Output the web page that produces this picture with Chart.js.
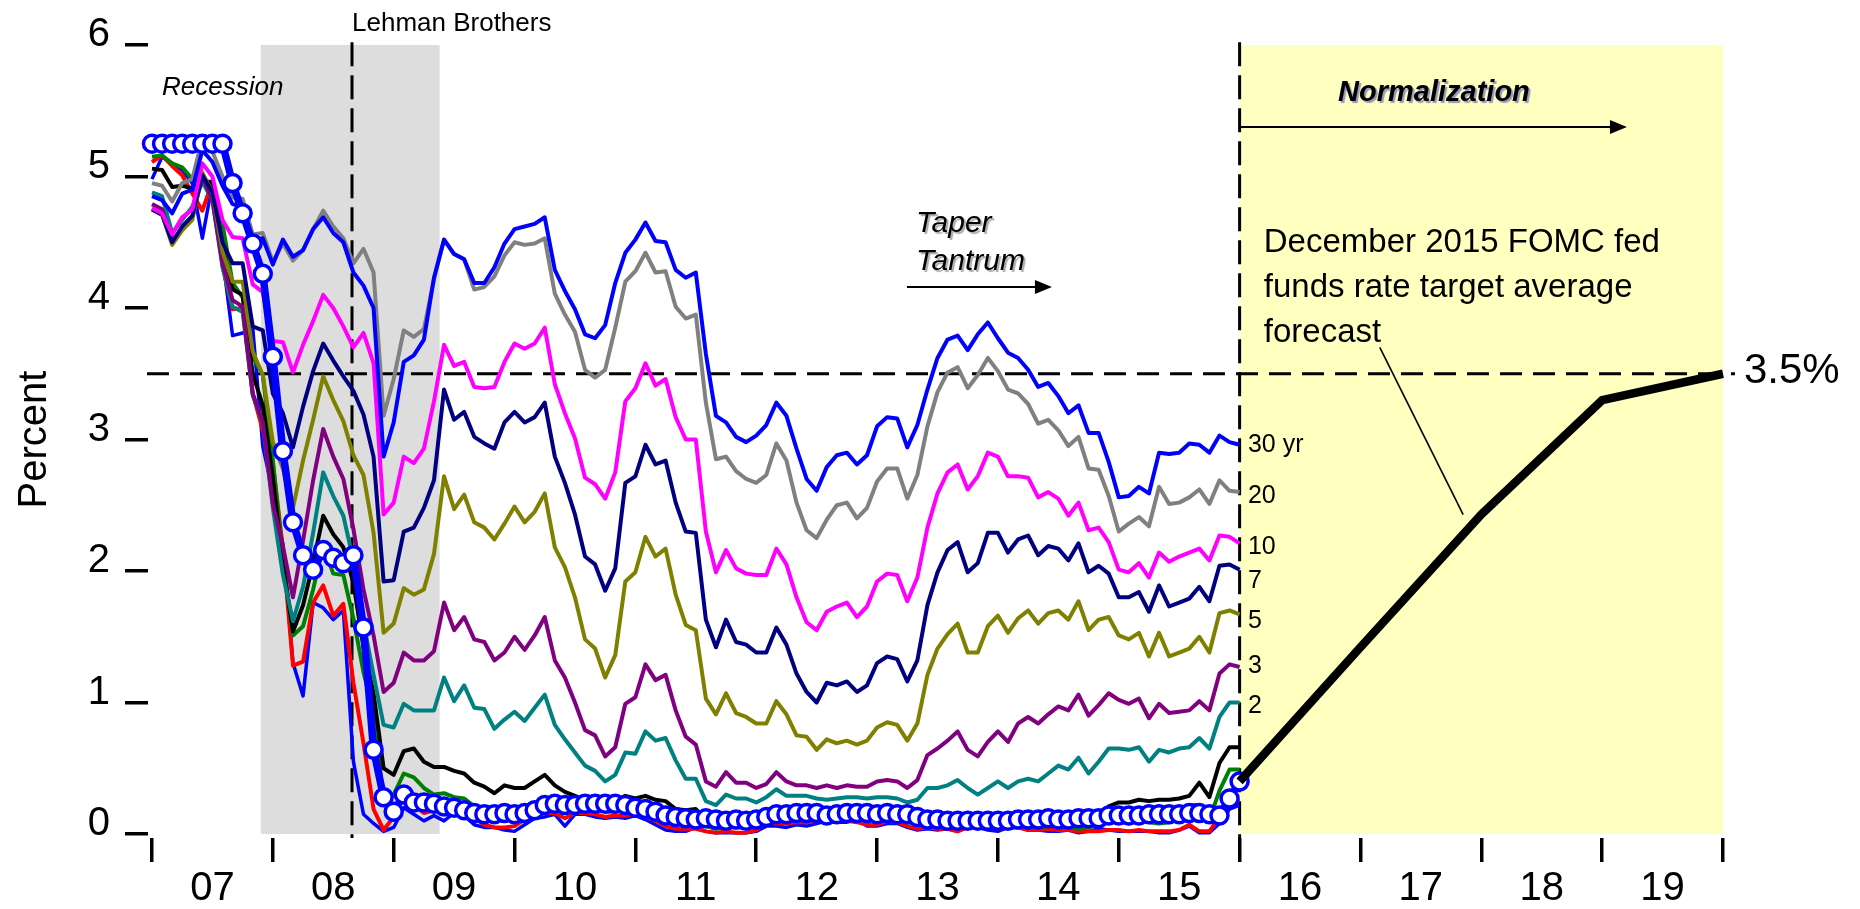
<!DOCTYPE html>
<html><head><meta charset="utf-8">
<script src="https://cdn.jsdelivr.net/npm/chart.js@4/dist/chart.umd.min.js"></script>
<style>html,body{margin:0;padding:0;background:#fff;overflow:hidden}canvas{display:block}</style>
</head><body>
<canvas id="c" width="1860" height="909"></canvas>
<script>
// ---------------- DATA ----------------
// monthly observations, Jan 2007 .. Jan 2016
const startYear = 2007;
const monthCount = 109;
const xTickYears  = [2007,2008,2009,2010,2011,2012,2013,2014,2015,2016,2017,2018,2019,2020];
const xTickLabels = ['07','08','09','10','11','12','13','14','15','16','17','18','19',''];
const yTickValues = [0,1,2,3,4,5,6];

const fedFunds = [
5.25,5.25,5.25,5.25,5.25,5.25,5.25,5.25,4.95,4.72,4.49,4.26,
3.63,2.91,2.37,2.12,2.01,2.16,2.10,2.06,2.12,1.57,0.64,0.28,
0.17,0.30,0.24,0.24,0.23,0.21,0.20,0.18,0.16,0.15,0.15,0.16,
0.15,0.16,0.18,0.22,0.23,0.22,0.22,0.23,0.23,0.23,0.23,0.22,
0.20,0.19,0.17,0.14,0.13,0.12,0.11,0.12,0.11,0.10,0.11,0.10,
0.11,0.13,0.15,0.15,0.16,0.16,0.16,0.14,0.15,0.16,0.16,0.16,
0.15,0.16,0.15,0.15,0.13,0.11,0.11,0.10,0.10,0.10,0.10,0.10,
0.10,0.10,0.11,0.11,0.11,0.12,0.11,0.11,0.12,0.12,0.12,0.14,
0.14,0.14,0.14,0.15,0.15,0.15,0.15,0.16,0.16,0.15,0.14,0.27,
0.40];
const y1m = [
4.98,5.15,5.10,5.05,4.95,4.53,4.95,4.39,3.79,3.81,3.85,2.95,
2.60,2.20,1.30,1.05,1.76,1.72,1.63,1.70,0.55,0.15,0.08,0.02,
0.05,0.20,0.15,0.10,0.14,0.10,0.16,0.14,0.07,0.05,0.05,0.03,
0.02,0.07,0.12,0.13,0.15,0.06,0.15,0.15,0.13,0.12,0.13,0.12,
0.14,0.11,0.07,0.03,0.02,0.02,0.05,0.02,0.01,0.01,0.01,0.01,
0.02,0.06,0.06,0.05,0.07,0.06,0.08,0.10,0.09,0.09,0.11,0.06,
0.06,0.08,0.08,0.05,0.03,0.04,0.03,0.04,0.02,0.08,0.05,0.03,
0.02,0.05,0.05,0.03,0.03,0.02,0.02,0.03,0.01,0.02,0.04,0.03,
0.02,0.02,0.02,0.02,0.01,0.01,0.03,0.06,0.01,0.01,0.08,0.19,
0.22];
const y3m = [
5.11,5.16,5.08,5.01,4.87,4.74,4.96,4.32,3.99,4.00,3.35,3.07,
2.82,2.17,1.28,1.31,1.76,1.89,1.66,1.75,1.15,0.69,0.19,0.03,
0.13,0.30,0.22,0.16,0.18,0.18,0.18,0.17,0.12,0.07,0.05,0.05,
0.06,0.11,0.15,0.16,0.16,0.12,0.16,0.16,0.15,0.13,0.14,0.14,
0.15,0.13,0.10,0.06,0.04,0.04,0.04,0.02,0.01,0.02,0.01,0.01,
0.03,0.09,0.08,0.08,0.09,0.09,0.10,0.10,0.11,0.10,0.09,0.07,
0.07,0.10,0.09,0.06,0.04,0.05,0.04,0.04,0.02,0.05,0.07,0.07,
0.04,0.05,0.05,0.03,0.03,0.04,0.03,0.03,0.02,0.02,0.02,0.03,
0.03,0.02,0.03,0.02,0.02,0.02,0.03,0.07,0.02,0.02,0.13,0.23,
0.26];
const y6m = [
5.15,5.16,5.10,5.07,4.98,4.95,4.96,4.64,4.19,4.08,3.63,3.49,
2.84,2.10,1.51,1.58,1.86,2.19,1.98,1.97,1.64,1.23,0.92,0.26,
0.30,0.46,0.43,0.35,0.30,0.31,0.28,0.27,0.21,0.18,0.15,0.18,
0.15,0.18,0.22,0.24,0.23,0.22,0.20,0.19,0.19,0.17,0.17,0.19,
0.17,0.16,0.16,0.12,0.09,0.10,0.08,0.06,0.04,0.05,0.05,0.05,
0.06,0.11,0.14,0.14,0.14,0.14,0.14,0.13,0.13,0.15,0.15,0.12,
0.11,0.12,0.11,0.09,0.08,0.09,0.09,0.07,0.04,0.08,0.10,0.10,
0.08,0.08,0.08,0.05,0.05,0.06,0.06,0.05,0.04,0.05,0.07,0.12,
0.10,0.08,0.14,0.09,0.08,0.09,0.14,0.22,0.22,0.11,0.33,0.49,
0.49];
const y1y = [
5.06,5.05,4.92,4.93,4.91,4.96,4.96,4.47,4.14,4.10,3.50,3.26,
2.71,2.05,1.54,1.74,2.06,2.42,2.28,2.18,1.91,1.42,1.07,0.50,
0.45,0.63,0.65,0.55,0.51,0.51,0.48,0.46,0.39,0.36,0.31,0.37,
0.35,0.35,0.40,0.45,0.37,0.32,0.29,0.26,0.26,0.23,0.25,0.29,
0.27,0.29,0.26,0.25,0.19,0.18,0.19,0.11,0.10,0.11,0.11,0.12,
0.12,0.16,0.19,0.18,0.19,0.19,0.19,0.18,0.18,0.18,0.18,0.16,
0.15,0.16,0.15,0.12,0.12,0.14,0.12,0.13,0.12,0.12,0.12,0.13,
0.12,0.12,0.13,0.11,0.10,0.10,0.11,0.11,0.11,0.10,0.13,0.21,
0.24,0.24,0.26,0.25,0.26,0.26,0.27,0.29,0.39,0.28,0.54,0.66,
0.66];
const y2y = [
4.88,4.85,4.57,4.67,4.77,4.96,4.82,4.31,4.01,3.97,3.34,3.12,
2.48,1.97,1.62,1.88,2.29,2.75,2.57,2.42,2.08,1.61,1.21,0.83,
0.81,0.99,0.94,0.94,0.94,1.19,1.01,1.13,0.96,0.95,0.80,0.87,
0.93,0.86,0.96,1.06,0.83,0.72,0.62,0.52,0.48,0.40,0.45,0.62,
0.61,0.78,0.71,0.73,0.56,0.42,0.42,0.25,0.22,0.30,0.27,0.27,
0.24,0.28,0.34,0.29,0.29,0.29,0.27,0.26,0.27,0.28,0.28,0.27,
0.28,0.28,0.27,0.24,0.26,0.35,0.35,0.37,0.41,0.35,0.30,0.35,
0.40,0.35,0.40,0.42,0.40,0.46,0.52,0.49,0.58,0.46,0.55,0.65,
0.65,0.64,0.66,0.55,0.64,0.62,0.65,0.66,0.73,0.65,0.89,1.00,
1.00];
const y3y = [
4.79,4.75,4.51,4.60,4.69,5.00,4.82,4.34,4.06,4.01,3.35,3.13,
2.51,2.19,1.80,2.23,2.69,3.08,2.87,2.70,2.32,1.86,1.51,1.08,
1.15,1.38,1.32,1.32,1.39,1.76,1.55,1.65,1.48,1.46,1.32,1.38,
1.50,1.40,1.51,1.65,1.32,1.19,1.00,0.79,0.75,0.59,0.66,0.99,
1.04,1.29,1.17,1.21,0.94,0.74,0.68,0.40,0.36,0.47,0.39,0.39,
0.35,0.38,0.47,0.40,0.37,0.37,0.35,0.37,0.35,0.37,0.36,0.36,
0.40,0.41,0.40,0.35,0.41,0.60,0.65,0.71,0.78,0.64,0.59,0.70,
0.78,0.70,0.84,0.89,0.84,0.91,0.97,0.94,1.06,0.90,0.98,1.07,
1.02,0.99,1.03,0.88,0.99,0.92,0.93,0.94,1.01,0.94,1.22,1.29,
1.27];
const y5y = [
4.75,4.71,4.48,4.59,4.67,5.03,4.88,4.43,4.20,4.20,3.67,3.49,
2.98,2.78,2.48,2.84,3.15,3.48,3.30,3.14,2.88,2.73,2.29,1.53,
1.60,1.87,1.82,1.86,2.13,2.72,2.47,2.58,2.37,2.33,2.24,2.36,
2.49,2.37,2.45,2.59,2.18,2.03,1.80,1.48,1.41,1.19,1.36,1.92,
1.99,2.26,2.11,2.17,1.82,1.59,1.55,1.03,0.91,1.07,0.92,0.89,
0.84,0.84,1.01,0.91,0.75,0.74,0.64,0.72,0.69,0.71,0.68,0.71,
0.81,0.85,0.83,0.71,0.84,1.21,1.41,1.52,1.60,1.38,1.38,1.58,
1.66,1.53,1.64,1.70,1.60,1.68,1.70,1.63,1.77,1.55,1.63,1.65,
1.51,1.48,1.53,1.35,1.53,1.35,1.38,1.41,1.50,1.38,1.68,1.70,
1.67];
const y7y = [
4.75,4.71,4.50,4.62,4.70,5.01,4.88,4.50,4.34,4.34,3.86,3.83,
3.35,3.20,2.94,3.25,3.52,3.73,3.60,3.48,3.37,3.19,2.87,1.92,
1.93,2.30,2.33,2.48,2.69,3.38,3.15,3.21,3.02,2.97,2.93,3.13,
3.21,3.13,3.17,3.28,2.87,2.67,2.43,2.11,2.05,1.85,2.02,2.67,
2.72,2.96,2.81,2.84,2.52,2.30,2.29,1.63,1.42,1.63,1.46,1.44,
1.38,1.38,1.57,1.44,1.22,1.08,1.00,1.15,1.13,1.16,1.08,1.13,
1.30,1.35,1.33,1.16,1.32,1.74,1.99,2.16,2.22,1.99,2.06,2.29,
2.29,2.14,2.24,2.27,2.12,2.19,2.17,2.08,2.21,1.99,2.04,1.98,
1.80,1.80,1.84,1.69,1.89,1.73,1.76,1.79,1.88,1.77,2.04,2.05,
2.01];
const y10y = [
4.76,4.72,4.56,4.69,4.75,5.10,5.00,4.67,4.54,4.53,4.18,4.12,
3.75,3.74,3.51,3.72,3.90,4.10,4.00,3.86,3.70,3.81,3.58,2.43,
2.52,2.87,2.82,2.93,3.29,3.72,3.56,3.59,3.40,3.39,3.40,3.59,
3.73,3.69,3.73,3.85,3.42,3.20,3.01,2.71,2.66,2.55,2.75,3.29,
3.39,3.58,3.41,3.46,3.17,3.00,3.00,2.30,1.99,2.16,2.02,1.98,
1.97,1.97,2.17,2.05,1.80,1.61,1.55,1.69,1.73,1.76,1.65,1.73,
1.92,1.98,1.97,1.77,1.95,2.33,2.59,2.75,2.81,2.62,2.72,2.90,
2.87,2.72,2.72,2.71,2.56,2.60,2.55,2.42,2.52,2.31,2.33,2.22,
2.01,1.99,2.06,1.95,2.14,2.07,2.11,2.14,2.17,2.08,2.27,2.26,
2.21];
const y20y = [
4.95,4.93,4.81,4.95,4.98,5.29,5.19,5.00,4.84,4.83,4.56,4.57,
4.35,4.49,4.36,4.44,4.60,4.74,4.62,4.53,4.34,4.45,4.27,3.18,
3.46,3.83,3.78,3.84,4.22,4.52,4.41,4.37,4.14,4.16,4.24,4.40,
4.50,4.48,4.49,4.53,4.11,3.95,3.82,3.53,3.47,3.53,3.85,4.20,
4.28,4.42,4.27,4.28,4.01,3.92,3.95,3.28,2.85,2.87,2.76,2.70,
2.67,2.73,2.97,2.84,2.52,2.31,2.25,2.39,2.50,2.52,2.40,2.48,
2.68,2.78,2.78,2.55,2.73,3.10,3.36,3.51,3.55,3.39,3.49,3.62,
3.52,3.38,3.35,3.27,3.12,3.15,3.07,2.95,3.02,2.78,2.77,2.57,
2.30,2.36,2.41,2.34,2.64,2.51,2.52,2.56,2.62,2.51,2.69,2.61,
2.60];
const y30y = [
4.85,4.82,4.72,4.87,4.90,5.20,5.11,4.93,4.79,4.77,4.52,4.53,
4.33,4.52,4.39,4.44,4.60,4.69,4.57,4.50,4.27,4.17,4.00,2.87,
3.13,3.59,3.64,3.76,4.23,4.52,4.41,4.37,4.19,4.19,4.31,4.49,
4.60,4.62,4.64,4.69,4.29,4.13,3.99,3.80,3.77,3.87,4.19,4.42,
4.52,4.65,4.51,4.50,4.29,4.23,4.27,3.65,3.18,3.13,3.02,2.98,
3.03,3.11,3.28,3.18,2.93,2.70,2.61,2.79,2.88,2.90,2.81,2.88,
3.10,3.17,3.16,2.94,3.11,3.38,3.62,3.76,3.79,3.68,3.80,3.89,
3.77,3.66,3.62,3.53,3.40,3.43,3.33,3.20,3.26,3.05,3.05,2.83,
2.56,2.57,2.64,2.59,2.90,2.89,2.90,2.97,2.96,2.90,3.03,2.98,
2.96];
// December 2015 FOMC fed funds target average forecast (year-end points)
const forecastYears  = [2016, 2017, 2018, 2019, 2020];
const forecastValues = [0.40, 1.42, 2.43, 3.30, 3.50];

const seriesLabels = ['30 yr','20','10','7','5','3','2'];

// ---------------- STYLE / LAYOUT ----------------
const FONT = '"Liberation Sans", Arial, Helvetica, sans-serif';
const XMIN = 2007 - 4/120.85;
const months = Array.from({length: monthCount}, (_, i) => startYear + i / 12);
const pts = arr => arr.map((v, i) => ({x: months[i], y: v}));

const labelLevels = [2.96, 2.57, 2.18, 1.92, 1.62, 1.28, 0.97];

const styleDefs = [
  {data: fedFunds, color:'#0000FF', width:7.5, order:0, marker:true},
  {data: y30y, color:'#0000FF', width:4, order:1},
  {data: y20y, color:'#808080', width:4, order:2},
  {data: y10y, color:'#FF00FF', width:4, order:3},
  {data: y7y,  color:'#000080', width:4, order:4},
  {data: y5y,  color:'#808000', width:4, order:5},
  {data: y3y,  color:'#800080', width:4, order:6},
  {data: y2y,  color:'#008080', width:4, order:7},
  {data: y1y,  color:'#000000', width:4, order:8},
  {data: y6m,  color:'#008000', width:4, order:9},
  {data: y3m,  color:'#FF0000', width:4, order:10},
  {data: y1m,  color:'#0000FF', width:3.5, order:11},
];

const datasets = styleDefs.map(s => ({
  data: pts(s.data),
  borderColor: s.color,
  borderWidth: s.width,
  order: s.order,
  pointRadius: s.marker ? 8.5 : 0,
  pointBorderWidth: s.marker ? 3.5 : 0,
  pointBackgroundColor: '#FFFFFF',
  pointBorderColor: s.color,
  clip: false,
  tension: 0,
  borderJoinStyle: 'round'
}));
datasets.push({
  data: forecastYears.map((x, i) => ({x, y: forecastValues[i]})),
  borderColor: '#000000', borderWidth: 8.5, order: -1, pointRadius: 0,
  clip: false, tension: 0, borderJoinStyle: 'miter', borderCapStyle: 'butt'
});

function forecastAt(yr) {
  for (let i = 0; i < forecastYears.length - 1; i++) {
    if (yr >= forecastYears[i] && yr <= forecastYears[i+1]) {
      const t = (yr - forecastYears[i]) / (forecastYears[i+1] - forecastYears[i]);
      return forecastValues[i] + t * (forecastValues[i+1] - forecastValues[i]);
    }
  }
  return forecastValues[forecastValues.length-1];
}

function arrow(ctx, x1, x2, y) {
  ctx.beginPath(); ctx.moveTo(x1, y); ctx.lineTo(x2 - 14, y); ctx.stroke();
  ctx.beginPath(); ctx.moveTo(x2, y); ctx.lineTo(x2 - 17, y - 7); ctx.lineTo(x2 - 17, y + 7); ctx.closePath(); ctx.fill();
}

const annot = {
  id: 'annot',
  beforeDatasetsDraw(chart) {
    const {ctx, chartArea, scales: {x, y}} = chart;
    const px = v => x.getPixelForValue(v), py = v => y.getPixelForValue(v);
    ctx.save();
    ctx.fillStyle = '#DDDDDD';
    ctx.fillRect(px(2007.90), py(6), px(2009.38) - px(2007.90), py(0) - py(6));
    ctx.fillStyle = '#FFFFC0';
    ctx.fillRect(px(2016), py(6), px(2020) - px(2016), py(0) - py(6));
    ctx.strokeStyle = '#000'; ctx.lineWidth = 3;
    ctx.setLineDash([24, 9]);
    [2008.655, 2016].forEach(v => {
      ctx.beginPath(); ctx.moveTo(px(v), py(6.02)); ctx.lineTo(px(v), chartArea.bottom); ctx.stroke();
    });
    ctx.setLineDash([22, 11]);
    ctx.beginPath(); ctx.moveTo(chartArea.left - 1, py(3.5)); ctx.lineTo(px(2020) + 12, py(3.5)); ctx.stroke();
    ctx.restore();
  },
  afterDatasetsDraw(chart) {
    const {ctx, chartArea, scales: {x, y}} = chart;
    const px = v => x.getPixelForValue(v), py = v => y.getPixelForValue(v);
    ctx.save();
    ctx.fillStyle = '#000'; ctx.strokeStyle = '#000';
    ctx.textBaseline = 'alphabetic'; ctx.textAlign = 'left';

    // Recession
    ctx.font = 'italic 26px ' + FONT;
    ctx.fillText('Recession', px(2007.083), py(5.62));
    // Lehman Brothers
    ctx.font = '26px ' + FONT;
    ctx.fillText('Lehman Brothers', px(2008.655), py(6.106));

    // Taper Tantrum (with soft shadow)
    ctx.save();
    ctx.shadowColor = 'rgba(150,150,150,0.8)'; ctx.shadowOffsetX = 2; ctx.shadowOffsetY = 2; ctx.shadowBlur = 1;
    ctx.font = 'italic 30px ' + FONT;
    ctx.fillText('Taper', px(2013.322), py(4.578));
    ctx.fillText('Tantrum', px(2013.322), py(4.289));
    ctx.restore();
    ctx.lineWidth = 2;
    arrow(ctx, px(2013.247), px(2014.447), py(4.16));

    // Normalization
    ctx.save();
    ctx.shadowColor = 'rgba(140,140,190,0.9)'; ctx.shadowOffsetX = 2; ctx.shadowOffsetY = 2; ctx.shadowBlur = 1;
    ctx.font = 'italic bold 29px ' + FONT;
    ctx.textAlign = 'center';
    ctx.fillText('Normalization', px(2017.608), py(5.574));
    ctx.restore();
    ctx.lineWidth = 2;
    arrow(ctx, px(2016.01), px(2019.205), py(5.376));

    // Forecast annotation
    ctx.font = '33px ' + FONT;
    ctx.fillText('December 2015 FOMC fed', px(2016.20), py(4.426));
    ctx.fillText('funds rate target average', px(2016.20), py(4.084));
    ctx.fillText('forecast', px(2016.20), py(3.741));
    ctx.lineWidth = 1.6;
    ctx.beginPath();
    ctx.moveTo(px(2017.16), py(3.70));
    ctx.lineTo(px(2017.85), py(forecastAt(2017.85) + 0.15));
    ctx.stroke();

    // 3.5% label
    ctx.font = '42px ' + FONT;
    ctx.textBaseline = 'middle';
    ctx.fillText('3.5%', px(2020.173), py(3.5) - 2);

    // maturity labels
    ctx.font = '25px ' + FONT;
    seriesLabels.forEach((s, i) => ctx.fillText(s, px(2016.069), py(labelLevels[i])));

    // y axis title
    ctx.save();
    ctx.font = '40px ' + FONT;
    ctx.textBaseline = 'alphabetic'; ctx.textAlign = 'center';
    ctx.translate(46, (chartArea.top + py(0)) / 2);
    ctx.rotate(-Math.PI / 2);
    ctx.fillText('Percent', 0, 0);
    ctx.restore();
    ctx.restore();
  }
};

new Chart(document.getElementById('c'), {
  type: 'line',
  data: { datasets },
  options: {
    responsive: false, animation: false, devicePixelRatio: 1,
    layout: { padding: { left: 0, right: 137, top: 45, bottom: 0 } },
    plugins: { legend: { display: false }, tooltip: { enabled: false } },
    scales: {
      x: {
        type: 'linear', min: XMIN, max: 2020,
        afterFit: s => { s.height = 71; },
        afterBuildTicks: s => { s.ticks = xTickYears.map(v => ({value: v})); },
        border: { display: false },
        grid: { drawOnChartArea: false, drawTicks: true, tickLength: 24, tickWidth: 3.5, tickColor: '#000', color: '#000', lineWidth: 3.5 },
        ticks: {
          autoSkip: false, maxRotation: 0, minRotation: 0, padding: 3, labelOffset: 60.4,
          color: '#000', font: { size: 40, family: FONT },
          callback: (v, i) => xTickLabels[i]
        }
      },
      y: {
        type: 'linear', min: -4/131.5, max: 6,
        afterFit: s => { s.width = 148; },
        afterBuildTicks: s => { s.ticks = yTickValues.map(v => ({value: v})); },
        border: { display: false },
        grid: { drawOnChartArea: false, drawTicks: true, tickLength: 23, tickWidth: 3.5, tickColor: '#000', color: '#000', lineWidth: 3.5 },
        ticks: {
          padding: 15, labelOffset: -10, color: '#000', font: { size: 40, family: FONT },
          callback: v => String(v)
        }
      }
    }
  },
  plugins: [annot]
});
</script>
</body></html>
